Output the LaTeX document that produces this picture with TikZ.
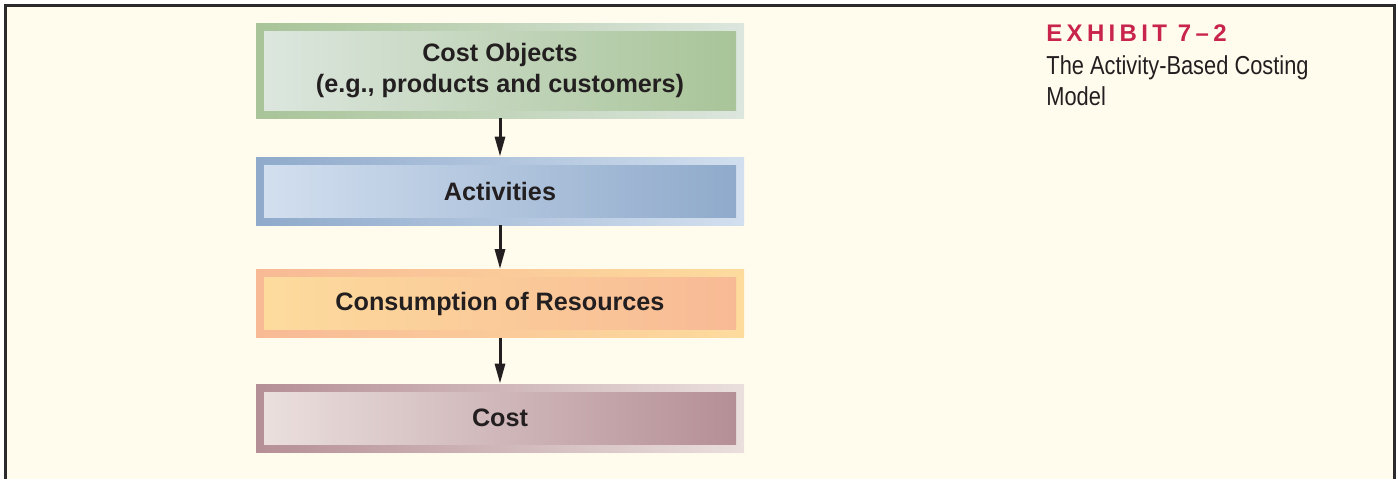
\documentclass[tikz,border=0pt]{standalone}
\usepackage{fontspec}
\setmainfont{Liberation Sans}
\newfontfamily\capfont[FakeStretch=0.84]{Liberation Sans}
\newfontfamily\exhfont[LetterSpace=18]{Liberation Sans}
\usetikzlibrary{arrows.meta,positioning}
\definecolor{paper}{HTML}{FFFCEE}
\definecolor{framec}{HTML}{2B2B2B}
\definecolor{inkc}{HTML}{231F20}
\definecolor{exred}{HTML}{C8244C}
\definecolor{grnd}{HTML}{A8C498}
\definecolor{grnl}{HTML}{DCE6DE}
\definecolor{blud}{HTML}{8FAACB}
\definecolor{blul}{HTML}{D2DFEF}
\definecolor{salm}{HTML}{F8BA95}
\definecolor{yelw}{HTML}{FDDB9D}
\definecolor{mauv}{HTML}{B58F96}
\definecolor{maul}{HTML}{EADFDD}
\tikzset{
  ar/.style={-{Triangle[length=10pt,width=5pt]},line width=1.5pt,inkc},
  outb/.style 2 args={left color=#1,right color=#2,minimum width=244pt,minimum height=34pt,inner sep=0pt},
  inb/.style 2 args={left color=#1,right color=#2,minimum width=236pt,minimum height=26pt,inner sep=0pt,text=inkc,font=\bfseries\fontsize{12.6}{15.5}\selectfont,align=center},
  side/.style={anchor=base west,inner sep=0pt,text=inkc,font=\capfont\fontsize{13}{15.5}\selectfont}
}
\begin{document}
\begin{tikzpicture}[x=0.5pt,y=-0.5pt]
\useasboundingbox (0,0) rectangle (1398,479);
\fill[paper] (5.5,5.5) rectangle (1394.5,479);
\draw[framec,line width=1.5pt] (5.5,479)--(5.5,5.5)--(1394.5,5.5)--(1394.5,479);
% the four stages
\node[outb={grnd}{grnl},minimum height=47.5pt] (objo) at (500,70.5) {}; \node[inb={grnl}{grnd},minimum height=39.5pt] (obj) at (objo) {Cost Objects\\(e.g., products and customers)};
\node[outb={blud}{blul}] (acto) at (500,191) {}; \node[inb={blul}{blud}] (act) at (acto) {Activities};
\node[outb={salm}{yelw}] (reso) at (500,303.5) {}; \node[inb={yelw}{salm}] (res) at (reso) {Consumption of Resources};
\node[outb={mauv}{maul}] (csto) at (500,418) {}; \node[inb={maul}{mauv}] (cst) at (csto) {Cost};
\draw[ar] (objo)--(acto); \draw[ar] (acto)--(reso); \draw[ar] (reso)--(csto);
% caption
\node[anchor=base west,inner sep=0pt,text=exred,font=\exhfont\bfseries\fontsize{12}{14}\selectfont] (exh) at (1046,41) {EXHIBIT 7–2};
\node[side] (ttl) at (1046,74) {The Activity-Based Costing};
\node[side] (mdl) at (1046,105.5) {Model};
\end{tikzpicture}
\end{document}
